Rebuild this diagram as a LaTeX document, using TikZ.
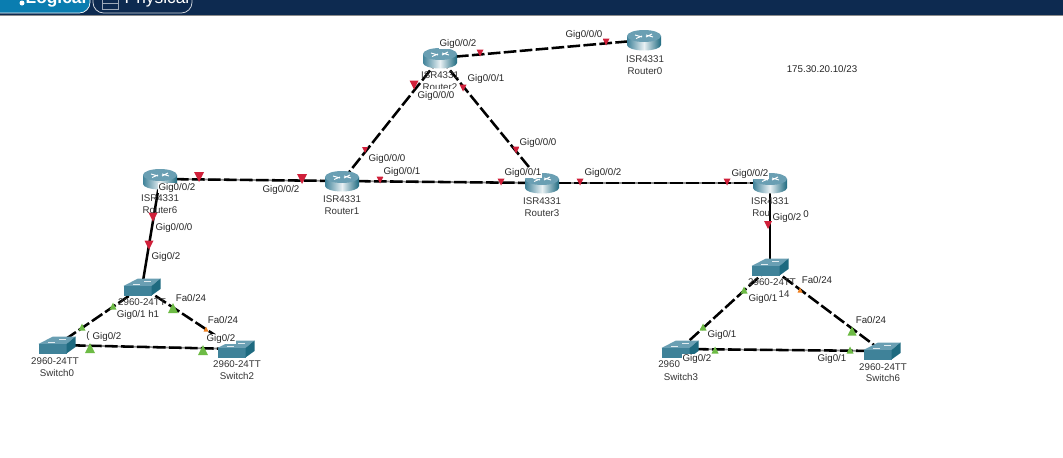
\documentclass[tikz,border=0pt]{standalone}
\usepackage{fontspec}
\setmainfont{Liberation Sans}
\definecolor{barblue}{HTML}{0D2A50}
\definecolor{btnblue}{HTML}{0A7DB0}
\definecolor{linkred}{HTML}{D0203A}
\definecolor{linkgreen}{HTML}{6DBB45}
\definecolor{linkorange}{HTML}{F08020}
\definecolor{tealdark}{HTML}{3F8299}
\definecolor{tealmid}{HTML}{6A9FB3}
\definecolor{tealside}{HTML}{1E6A80}
\tikzset{
 x=0.75pt,y=-0.75pt,
 cable/.style={line width=1.9pt,black,dash pattern=on 9.5pt off 2.5pt},
 cableback/.style={line width=1.3pt,black!45},
 solidcable/.style={line width=1.9pt,black},
 devtext/.style={font=\fontsize{7.3pt}{8pt}\selectfont,inner sep=0pt,text=black!80},
 iftext/.style={font=\fontsize{7.3pt}{8pt}\selectfont,inner sep=0.5pt,fill=white,text=black!85},
 plain/.style={font=\fontsize{7.3pt}{8pt}\selectfont,inner sep=0pt,text=black!85},
 router/.pic={
  \shade[left color=tealdark,right color=tealside,middle color=white!85!tealmid]
    (-17,-4) -- (-17,5) arc[start angle=180,end angle=0,x radius=17,y radius=5.5] -- (17,-4) -- cycle;
  \fill[tealmid] (0,-4) ellipse[x radius=17,y radius=6];
  \draw[white,line width=0.7pt] (-9,-5) -- (-2,-3) (2,-5) -- (9,-3) (-8,-1.5) -- (-2,-4) (2,-3) -- (8,-6);
 },
 switchicon/.pic={
  \fill[tealmid] (-18.5,-1) -- (-4,-8.5) -- (18.5,-8.5) -- (9.5,-1) -- cycle;
  \fill[tealdark] (-18.5,-1) rectangle (9.5,8.5);
  \fill[tealside] (9.5,-1) -- (18.5,-8.5) -- (18.5,2) -- (9.5,8.5) -- cycle;
  \draw[white!80!tealmid,line width=0.5pt] (-9,-3) -- (-2,-3) (2,-5.5) -- (9,-5.5);
 },
}
\newcommand{\mkdown}[4]{\fill[#1] (#2-#4,#3-#4) -- (#2+#4,#3-#4) -- (#2,#3+#4) -- cycle;}
\newcommand{\mkup}[4]{\fill[#1] (#2-#4,#3+#4) -- (#2+#4,#3+#4) -- (#2,#3-#4) -- cycle;}
\begin{document}
\begin{tikzpicture}
\useasboundingbox (0,0) rectangle (1063,457);
\fill[white] (0,0) rectangle (1063,457);
% top bar
\begin{scope}
\clip (0,0) rectangle (1063,15);
\fill[barblue] (0,0) rectangle (1063,15);
\fill[black!45] (0,14.5) rectangle (1063,15.5);
\fill[btnblue,draw=white,line width=0.5pt,rounded corners=8pt] (-10,-12) rectangle (90,13);
\draw[white!80!barblue,line width=0.6pt,rounded corners=8pt] (93,-12) rectangle (192,13);
\node[font=\bfseries\fontsize{13pt}{14pt}\selectfont,text=white,inner sep=0pt] (logicaltab) at (56,-1) {Logical};
\node[font=\fontsize{13pt}{14pt}\selectfont,text=white,inner sep=0pt] (physicaltab) at (157,-1) {Physical};
\draw[white!60!barblue,line width=0.6pt] (102,-2) rectangle (118,9) (102,3) -- (118,3);
\fill[white] (22,3) circle (2.5);
\end{scope}
% device positions
\coordinate (r0) at (644,40);
\coordinate (r1) at (342,181);
\coordinate (r2) at (440,58);
\coordinate (r3) at (542,183);
\coordinate (r4) at (770,183);
\coordinate (r6) at (160,179);
\coordinate (s1) at (142,287);
\coordinate (s0) at (57,345);
\coordinate (s2) at (236,349);
\coordinate (s4) at (770,267);
\coordinate (s3) at (680,349);
\coordinate (s6) at (882,351);
% connectors
\draw[cableback] (r6) -- (r1);
\draw[cableback] (r1) -- (r3);
\draw[cableback] (r3) -- (r4);
\draw[cableback] (s0) -- (s2);
\draw[cableback] (s3) -- (s6);
\draw[cable] (r2) -- (r0);
\draw[cable] (r2) -- (r1);
\draw[cable] (r2) -- (r3);
\draw[cable] (r6) -- (r1);
\draw[cable] (r1) -- (r3);
\draw[cable] (r3) -- (r4);
\draw[solidcable] (r6) -- (s1);
\draw[solidcable] (r4) -- (s4);
\draw[cable] (s1) -- (s0);
\draw[cable] (s1) -- (s2);
\draw[cable] (s0) -- (s2);
\draw[cable] (s4) -- (s3);
\draw[cable] (s4) -- (s6);
\draw[cable] (s3) -- (s6);
% devices
\foreach \d in {r0,r1,r2,r3,r4,r6} \pic at (\d) {router};
\foreach \d in {s0,s1,s2,s3,s4,s6} \pic at (\d) {switchicon};
% link markers
\mkdown{linkred}{480}{53}{3.5}
\mkdown{linkred}{606}{42}{3.5}
\mkdown{linkred}{414}{85}{4.5}
\mkdown{linkred}{463}{88}{3.5}
\mkdown{linkred}{199}{177}{5}
\mkdown{linkred}{302}{179}{5}
\mkdown{linkred}{380}{180}{3.5}
\mkdown{linkred}{153}{217}{4.5}
\mkdown{linkred}{149}{245}{4.5}
\mkdown{linkred}{365}{150}{3}
\mkdown{linkred}{516}{150}{3.5}
\mkdown{linkred}{501}{182}{3.5}
\mkdown{linkred}{580}{182}{3.5}
\mkdown{linkred}{727}{182}{3.5}
\mkdown{linkred}{768}{225}{4}
\mkup{linkgreen}{113}{306}{3.5}
\mkup{linkgreen}{82}{327}{3.5}
\mkup{linkgreen}{173}{308}{5}
\mkup{linkorange}{206}{329}{2.5}
\mkup{linkgreen}{90}{348}{5}
\mkup{linkgreen}{203}{350}{5}
\mkup{linkgreen}{744}{290}{3.5}
\mkup{linkgreen}{703}{327}{3.5}
\mkup{linkorange}{800}{290}{2.5}
\mkup{linkgreen}{852}{331}{4.5}
\mkup{linkgreen}{715}{350}{3.5}
\mkup{linkgreen}{850}{350}{3.5}
% device labels
\node[devtext] (r0a) at (645,59) {ISR4331};
\node[devtext] (r0b) at (645,71) {Router0};
\node[devtext] (r2a) at (440,75) {ISR4331};
\begin{scope}
\clip (400,82) rectangle (480,88);
\node[devtext] (r2b) at (440,87) {Router2};
\end{scope}
\node[devtext] (r6a) at (160,198) {ISR4331};
\node[devtext] (r6b) at (160,210) {Router6};
\node[devtext] (r1a) at (342,199) {ISR4331};
\node[devtext] (r1b) at (342,211) {Router1};
\node[devtext] (r3a) at (542,201) {ISR4331};
\node[devtext] (r3b) at (542,213) {Router3};
\node[devtext] (r4a) at (770,201) {ISR4331};
\node[devtext,anchor=west] (r4b) at (752,213) {Rou};
\node[devtext] (s1a) at (142,302) {2960-24TT};
\node[devtext] (s0a) at (55,361) {2960-24TT};
\node[devtext] (s0b) at (57,373) {Switch0};
\node[devtext] (s2a) at (237,364) {2960-24TT};
\node[devtext] (s2b) at (237,376) {Switch2};
\node[devtext] (s4a) at (772,282) {2960-24TT};
\node[devtext] (s4b) at (784,294) {14};
\node[devtext,anchor=west] (s3a) at (658,364) {2960};
\node[devtext] (s3b) at (681,377) {Switch3};
\node[devtext] (s6a) at (883,367) {2960-24TT};
\node[devtext] (s6b) at (883,378) {Switch6};
\node[plain] (ipnote) at (822,69) {175.30.20.10/23};
% interface labels
\node[iftext] (l01) at (458,44) {Gig0/0/2};
\node[iftext] (l02) at (584,35) {Gig0/0/0};
\node[iftext] (l03) at (436,96) {Gig0/0/0};
\node[iftext] (l04) at (486,79) {Gig0/0/1};
\node[iftext] (l05) at (538,143) {Gig0/0/0};
\node[iftext] (l06) at (387,159) {Gig0/0/0};
\node[iftext] (l07) at (402,172) {Gig0/0/1};
\node[iftext] (l08) at (523,173) {Gig0/0/1};
\node[iftext] (l09) at (603,173) {Gig0/0/2};
\node[iftext] (l10) at (750,174) {Gig0/0/2};
\node[iftext] (l11) at (177,188) {Gig0/0/2};
\node[iftext] (l12) at (281,190) {Gig0/0/2};
\node[iftext] (l13) at (174,228) {Gig0/0/0};
\node[iftext] (l14) at (166,257) {Gig0/2};
\node[plain] (l15) at (806,214) {0};
\node[iftext] (l16) at (787,218) {Gig0/2};
\node[iftext] (l17) at (138,315) {Gig0/1 h1};
\node[iftext] (l18) at (191,298) {Fa0/24};
\node[iftext] (l19) at (223,320) {Fa0/24};
\node[plain] (l20) at (88,336) {(};
\node[iftext] (l21) at (107,337) {Gig0/2};
\node[iftext] (l22) at (221,339) {Gig0/2};
\node[iftext] (l23) at (817,280) {Fa0/24};
\node[iftext] (l24) at (763,299) {Gig0/1};
\node[iftext] (l25) at (722,335) {Gig0/1};
\node[iftext] (l26) at (871,320) {Fa0/24};
\node[iftext] (l27) at (697,359) {Gig0/2};
\node[iftext] (l28) at (832,359) {Gig0/1};
\end{tikzpicture}
\end{document}
